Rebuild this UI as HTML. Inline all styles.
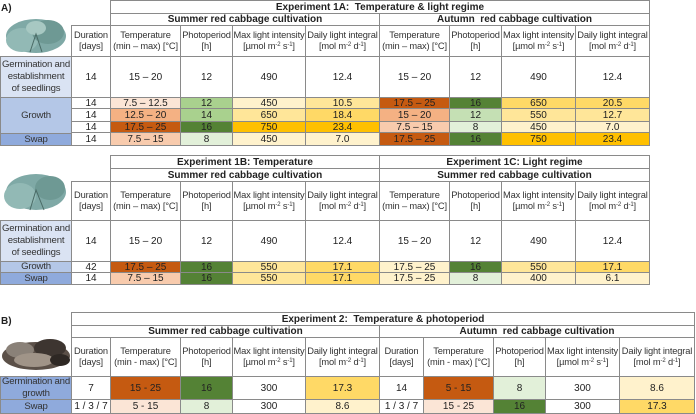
<!DOCTYPE html>
<html><head><meta charset="utf-8">
<style>
body{margin:0;background:#fff;width:696px;height:414px;position:relative;overflow:hidden;font-family:"Liberation Sans",Arial,sans-serif;color:#222}
.c{position:absolute;box-sizing:border-box;border:1px solid #8a8a8a;display:flex;align-items:center;justify-content:center;text-align:center;font-size:10px;line-height:11px;white-space:nowrap;overflow:hidden}
.c>span{display:block}
.h{font-size:9.3px;line-height:11px;color:#333;letter-spacing:-0.15px}
.b{font-weight:bold;font-size:10px}
.st{font-size:9.6px;line-height:12px;color:#333;letter-spacing:-0.2px}
sup{font-size:6px;vertical-align:3px;line-height:0}
.lab{position:absolute;font-weight:bold;font-size:10px}
</style></head><body>
<div class="lab" style="left:1px;top:3px">A)</div>
<div class="lab" style="left:1px;top:316px">B)</div>
<svg style="position:absolute;left:0;top:14px" width="72" height="44">
<ellipse cx="36" cy="22" rx="30" ry="17" fill="#7fa9a6"/><ellipse cx="22" cy="26" rx="16" ry="12" fill="#92b9b5"/><ellipse cx="48" cy="18" rx="16" ry="12" fill="#6e9994"/><ellipse cx="36" cy="14" rx="10" ry="7" fill="#a7c8c2"/><path d="M30 38 L36 20 L42 38" stroke="#4a6b66" fill="none"/></svg>
<svg style="position:absolute;left:0;top:170px" width="72" height="46">
<ellipse cx="36" cy="22" rx="30" ry="18" fill="#7fa9a6"/><ellipse cx="20" cy="26" rx="16" ry="13" fill="#92b9b5"/><ellipse cx="50" cy="18" rx="15" ry="12" fill="#6e9994"/><path d="M30 40 L36 20 L44 40" stroke="#4a6b66" fill="none"/></svg>
<svg style="position:absolute;left:0;top:330px" width="72" height="44">
<ellipse cx="36" cy="26" rx="34" ry="14" fill="#5b5048"/><ellipse cx="20" cy="20" rx="14" ry="8" fill="#8a8178"/><ellipse cx="50" cy="18" rx="16" ry="9" fill="#3d3530"/><ellipse cx="34" cy="30" rx="20" ry="7" fill="#a09488"/><ellipse cx="60" cy="30" rx="10" ry="6" fill="#2e2824"/></svg>
<div id="root"></div>
<script>
const root=document.getElementById('root');
const DK='#c55a11',MO='#f4b183',LO='#f8cbad',PO='#fbe5d6',DG='#548235',MG='#a9d18e',LG='#e2f0d9',Y3='#ffc000',Y2='#ffd966',Y1='#ffe699',Y0='#fff2cc',W='#fff';
const B0='#dae3f3',B1='#b4c7e7',B2='#8faadc';
function cell(x1,y1,x2,y2,html,bg,cls,name){
 const el=document.createElement('div');
 el.className='c '+(cls||'');
 el.style.left=x1+'px';el.style.top=y1+'px';el.style.width=(x2-x1+1)+'px';el.style.height=(y2-y1+1)+'px';
 el.style.background=bg||'#fff';
 el.innerHTML='<span>'+html+'</span>';
 
 
 root.appendChild(el);
}
const HD=['Duration<br>[days]','Temperature<br>(min – max) [°C]','Photoperiod<br>[h]','Max light intensity<br>[µmol m<sup>-2</sup> s<sup>-1</sup>]','Daily light integral<br>[mol m<sup>-2</sup> d<sup>-1</sup>]'];
const HDn=['duration-header','temperature-header','photoperiod-header','max-light-header','dli-header'];
function headers(cols,y1,y2,withDur,hd){
 const h=hd||HD;let i=withDur?0:1;
 for(let k=0;k<cols.length-1;k++,i++) cell(cols[k],y1,cols[k+1],y2,h[i],W,'h',HDn[i]);
}
function rows(cols,data,ys){
 data.forEach((r,ri)=>{r.forEach((v,k)=>cell(cols[k],ys[ri],cols[k+1],ys[ri+1],v[0],v[1],'','data-cell'));});
}
// ===== Experiment 1A =====
cell(110,0,649,13,'Experiment 1A:&nbsp; Temperature &amp; light regime',W,'b','exp-1a-title');
cell(110,13,379,25,'Summer red cabbage cultivation',W,'b','summer-title');
cell(379,13,649,25,'Autumn&nbsp; red cabbage cultivation',W,'b','autumn-title');
const cA=[71,110,180,232,305,379],cA2=[379,449,501,575,649];
headers(cA,25,56,true);headers(cA2,25,56,false);
cell(0,56,71,97,'Germination and<br>establishment<br>of seedlings',B0,'st','stage-germination');
cell(0,97,71,133,'Growth',B1,'st','stage-growth');
cell(0,133,71,145,'Swap',B2,'st','stage-swap');
const yA=[56,97,108,121,132,145];
rows(cA,[
 [['14',W],['15 – 20',W],['12',W],['490',W],['12.4',W]],
 [['14',W],['7.5 – 12.5',PO],['12',MG],['450',Y0],['10.5',Y1]],
 [['14',W],['12.5 – 20',MO],['14',MG],['650',Y1],['18.4',Y2]],
 [['14',W],['17.5 – 25',DK],['16',DG],['750',Y3],['23.4',Y3]],
 [['14',W],['7.5 – 15',LO],['8',LG],['450',Y0],['7.0',Y0]]],yA);
rows(cA2,[
 [['15 – 20',W],['12',W],['490',W],['12.4',W]],
 [['17.5 – 25',DK],['16',DG],['650',Y2],['20.5',Y2]],
 [['15 – 20',MO],['12','#c5e0b4'],['550',Y1],['12.7',Y1]],
 [['7.5 – 15',LO],['8',LG],['450',Y0],['7.0',Y0]],
 [['17.5 – 25',DK],['16',DG],['750',Y3],['23.4',Y3]]],yA);
// ===== Experiment 1B / 1C =====
cell(110,155,379,168,'Experiment 1B: Temperature',W,'b','exp-1b-title');
cell(379,155,649,168,'Experiment 1C: Light regime',W,'b','exp-1c-title');
cell(110,168,379,181,'Summer red cabbage cultivation',W,'b','summer-title');
cell(379,168,649,181,'Summer red cabbage cultivation',W,'b','summer-title');
headers(cA,181,220,true);headers(cA2,181,220,false);
cell(0,220,71,261,'Germination and<br>establishment<br>of seedlings',B0,'st','stage-germination');
cell(0,261,71,272,'Growth',B1,'st','stage-growth');
cell(0,272,71,284,'Swap',B2,'st','stage-swap');
const yB=[220,261,272,284];
rows(cA,[
 [['14',W],['15 – 20',W],['12',W],['490',W],['12.4',W]],
 [['42',W],['17.5 – 25',DK],['16',DG],['550',Y1],['17.1',Y2]],
 [['14',W],['7.5 – 15',LO],['16',DG],['550',Y1],['17.1',Y2]]],yB);
rows(cA2,[
 [['15 – 20',W],['12',W],['490',W],['12.4',W]],
 [['17.5 – 25',Y0],['16',DG],['550',Y1],['17.1',Y2]],
 [['17.5 – 25',Y0],['8',LG],['400',Y0],['6.1',Y0]]],yB);
// ===== Experiment 2 =====
const HD2=['Duration<br>[days]','Temperature<br>(min - max) [°C]','Photoperiod<br>[h]','Max light intensity<br>[µmol m<sup>-2</sup> s<sup>-1</sup>]','Daily light integral<br>[mol m<sup>-2</sup> d<sup>-1</sup>]'];
cell(71,312,694,325,'Experiment 2:&nbsp; Temperature &amp; photoperiod',W,'b','exp-2-title');
cell(71,325,379,337,'Summer red cabbage cultivation',W,'b','summer-title');
cell(379,325,694,337,'Autumn&nbsp; red cabbage cultivation',W,'b','autumn-title');
const cC=[71,110,180,232,305,379],cC2=[379,423,493,545,619,694];
headers(cC,337,376,true,HD2);headers(cC2,337,376,true,HD2);
cell(0,376,71,399,'Germination and<br>growth',B2,'st','stage-germination-growth');
cell(0,399,71,413,'Swap',B2,'st','stage-swap');
const yC=[376,399,413];
rows(cC,[
 [['7',W],['15 - 25',DK],['16',DG],['300',W],['17.3',Y2]],
 [['1 / 3 / 7',W],['5 - 15',PO],['8',LG],['300',W],['8.6',Y0]]],yC);
rows(cC2,[
 [['14',W],['5 - 15',DK],['8',LG],['300',W],['8.6',Y0]],
 [['1 / 3 / 7',W],['15 - 25',PO],['16',DG],['300',W],['17.3',Y2]]],yC);
</script>
</body></html>
